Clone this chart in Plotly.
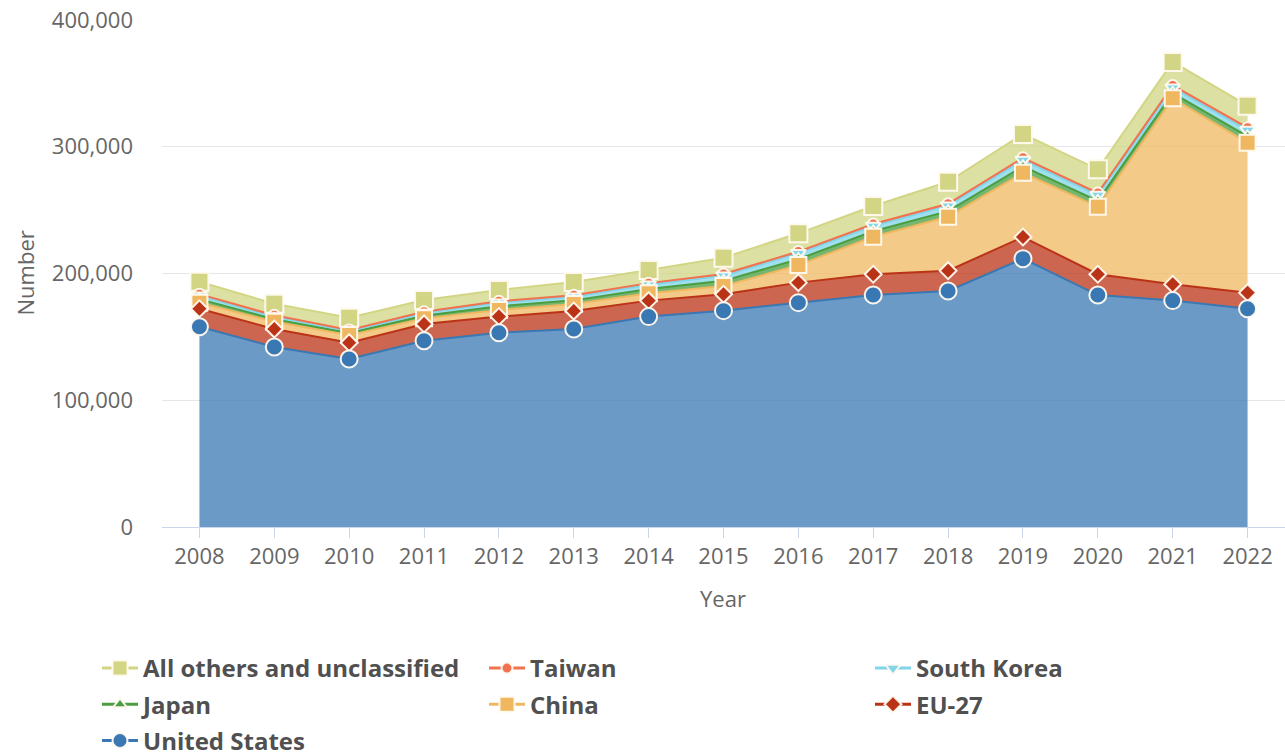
import plotly.graph_objects as go

years = [str(y) for y in range(2008, 2023)]

united_states = [158.0, 142.0, 132.5, 147.0, 153.3, 156.2, 166.0, 170.7, 177.0, 183.0, 186.2, 211.7, 183.0, 178.6, 172.2]
eu_27 = [14.2, 14.2, 12.9, 13.2, 12.7, 14.2, 12.6, 12.9, 15.8, 16.4, 16.0, 17.1, 16.4, 12.9, 12.7]
china = [4.8, 5.8, 6.1, 4.4, 5.2, 5.5, 5.8, 6.5, 13.9, 29.6, 42.6, 50.7, 53.3, 146.7, 118.3]
japan = [2.8, 2.0, 1.6, 2.1, 2.9, 2.9, 3.4, 4.1, 4.6, 4.3, 4.4, 5.0, 4.6, 4.2, 5.0]
south_korea = [2.7, 2.0, 1.5, 2.1, 2.9, 2.9, 3.4, 4.1, 4.6, 4.2, 4.3, 5.0, 4.6, 4.2, 5.0]
taiwan = [1.2, 1.0, 0.9, 1.0, 1.1, 1.1, 1.2, 1.3, 1.4, 1.5, 1.5, 1.8, 1.6, 1.8, 1.8]
all_others = [9.8, 9.2, 9.6, 9.3, 8.9, 10.5, 10.4, 12.9, 14.4, 14.3, 17.4, 18.8, 18.7, 18.5, 17.4]

# name, values, colour, symbol, size, legend column
series = [
    ("United States", united_states, (58, 120, 179), "circle", 17, "legend"),
    ("EU-27", eu_27, (187, 51, 22), "diamond", 13, "legend3"),
    ("China", china, (239, 184, 96), "square", 16, "legend2"),
    ("Japan", japan, (74, 158, 63), "triangle-up", 12, "legend"),
    ("South Korea", south_korea, (128, 214, 232), "triangle-down", 13, "legend3"),
    ("Taiwan", taiwan, (240, 114, 79), "circle", 11, "legend2"),
    ("All others and unclassified", all_others, (210, 214, 132), "square", 18, "legend"),
]

outline = dict(color="rgba(255,250,240,0.95)", width=2)
fig = go.Figure()

# stacked areas (bottom to top)
for name, vals, (r, g, b), sym, size, lg in series:
    fig.add_trace(go.Scatter(
        x=years, y=[v * 1000 for v in vals], name=name, showlegend=False,
        mode="lines", stackgroup="one",
        line=dict(color=f"rgb({r},{g},{b})", width=2),
        fillcolor=f"rgba({r},{g},{b},0.75)",
    ))

# markers at cumulative tops, drawn top series first so lower ones sit above
cum = [0.0] * len(years)
tops = []
for name, vals, col, sym, size, lg in series:
    cum = [c + v for c, v in zip(cum, vals)]
    tops.append([c * 1000 for c in cum])
for (name, vals, (r, g, b), sym, size, lg), top in reversed(list(zip(series, tops))):
    fig.add_trace(go.Scatter(
        x=years, y=top, mode="markers", showlegend=False,
        marker=dict(symbol=sym, size=size, color=f"rgb({r},{g},{b})", line=outline),
    ))

# legend entries (top series first)
for name, vals, (r, g, b), sym, size, lg in reversed(series):
    fig.add_trace(go.Scatter(
        x=[None], y=[None], name=name, mode="lines+markers", legend=lg,
        legendgroup=name,
        line=dict(color=f"rgb({r},{g},{b})", width=3),
        marker=dict(symbol=sym, size=min(size, 15), color=f"rgb({r},{g},{b})", line=outline),
    ))

legend_font = dict(family="Open Sans", size=24, color="#505050", weight="bold")
def leg(xpx):
    return dict(
        orientation="v", traceorder="grouped", tracegroupgap=2,
        xref="container", yref="container",
        x=xpx / 1285, y=1 - 646 / 753, xanchor="left", yanchor="top",
        font=legend_font, itemwidth=36, bgcolor="rgba(0,0,0,0)",
    )

fig.update_layout(
    width=1285, height=753,
    margin=dict(l=162, r=0, t=20, b=226, autoexpand=False),
    paper_bgcolor="white", plot_bgcolor="white",
    font=dict(family="Open Sans", color="#666666"),
    showlegend=True,
    legend=leg(97), legend2=leg(484), legend3=leg(870),
    xaxis=dict(
        type="category", range=[-0.5, 14.5], automargin=False,
        tickfont=dict(size=22, color="#666666"),
        showgrid=False, showline=True, linecolor="#ccd6eb", linewidth=1,
        ticks="outside", ticklen=10, tickcolor="#ccd6eb",
        zeroline=False,
    ),
    yaxis=dict(
        range=[0, 400000], tickvals=[0, 100000, 200000, 300000, 400000],
        tickformat=",d", automargin=False,
        tickfont=dict(size=22, color="#666666"),
        showgrid=True, gridcolor="#e6e6e6", gridwidth=1,
        zeroline=True, zerolinecolor="#ccd6eb", zerolinewidth=1,
        ticks="", ticklabelstandoff=28,
    ),
    annotations=[
        dict(text="Number", xref="paper", yref="paper", x=-138 / 1123, y=0.5,
             xanchor="center", yanchor="middle", textangle=-90, showarrow=False,
             font=dict(size=22, color="#666666", family="Open Sans")),
        dict(text="Year", xref="paper", yref="paper", x=(723 - 162) / 1123, y=-71 / 507,
             xanchor="center", yanchor="middle", showarrow=False,
             font=dict(size=22, color="#666666", family="Open Sans")),
    ],
)

fig.write_html("out.html", config={"displayModeBar": False},
               post_script="document.body.style.margin='0';")
